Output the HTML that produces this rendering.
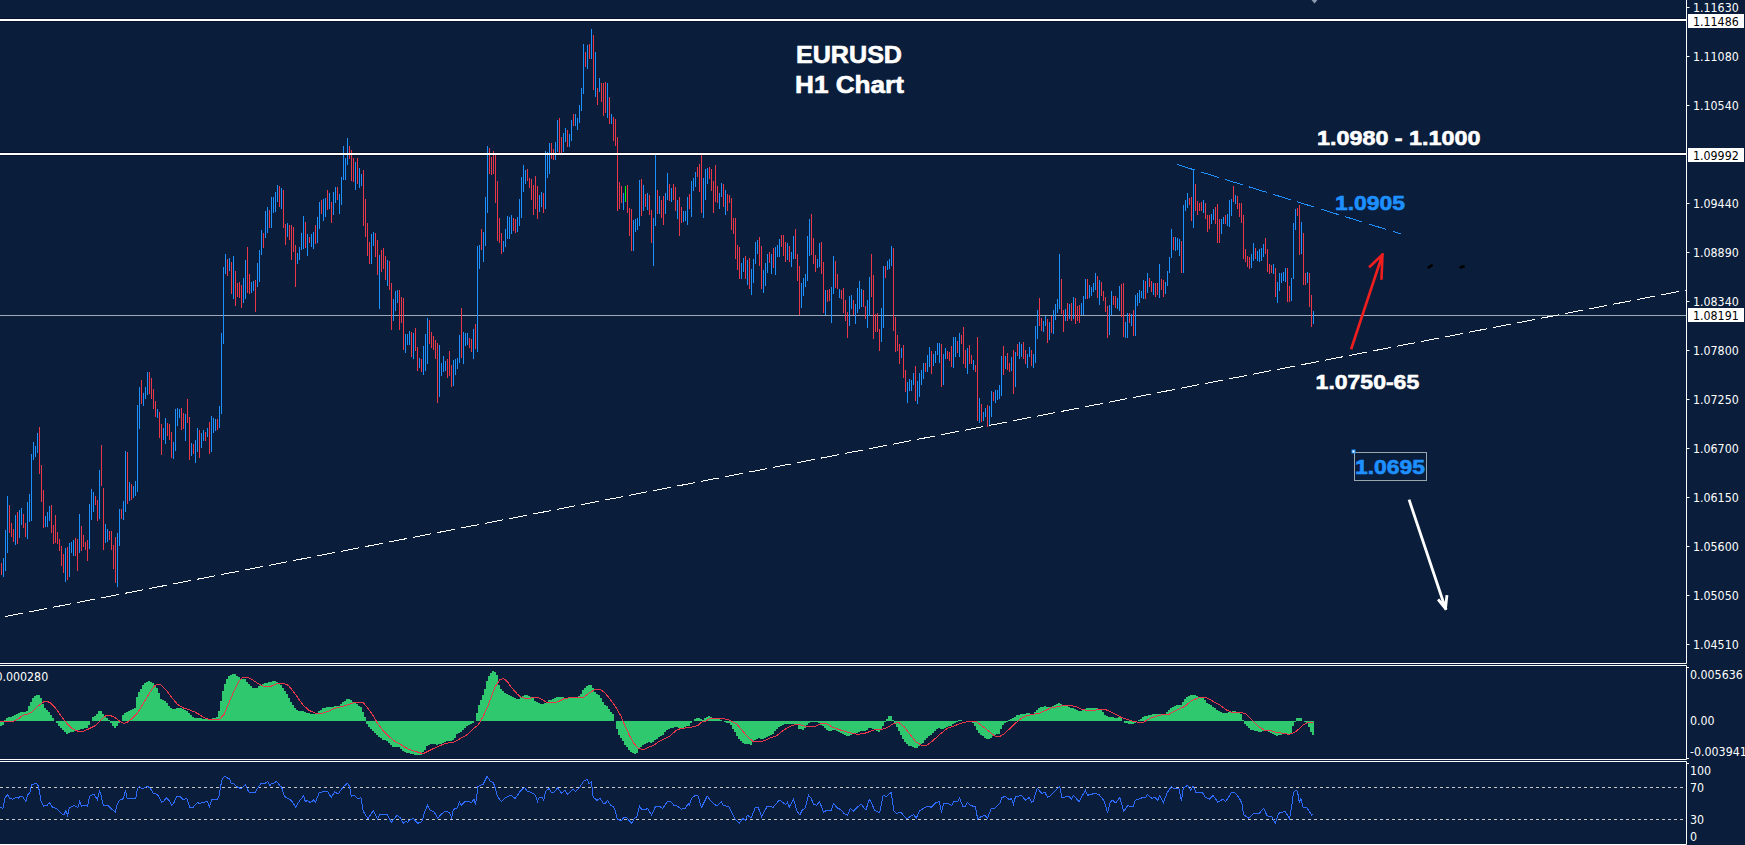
<!DOCTYPE html>
<html><head><meta charset="utf-8"><title>EURUSD H1 Chart</title>
<style>
html,body{margin:0;padding:0;background:#0a1e3b;overflow:hidden;width:1745px;height:845px}
svg{display:block}
.ax{font-family:"DejaVu Sans Condensed","DejaVu Sans","Liberation Sans",sans-serif;font-size:12.3px;fill:#fff}
.axb{fill:#000}
.big{font-family:"Liberation Sans",Arial,sans-serif;font-weight:bold;font-size:20.6px;fill:#fff;stroke:#fff;stroke-width:0.6px}
.bl{fill:#1e90ff;stroke:#1e90ff}
.ttl{font-size:24px}
</style></head><body>
<svg width="1745" height="845" viewBox="0 0 1745 845"><rect width="1745" height="845" fill="#0a1e3b"/><path d="M1686.5 0V663.5M1686.5 665.5V759.5M1686.5 761.5V844.5" stroke="#fff" stroke-width="1" fill="none"/><path d="M0 663.5H1686.5M0 665.5H1686.5M0 759.5H1686.5M0 761.5H1686.5M0 844.5H1686.5" stroke="#fff" stroke-width="1" fill="none"/><path d="M1687 667.5H1689M1687 758.5H1689M1687 763.5H1689" stroke="#fff" stroke-width="1"/><path d="M0 315.5H1686" stroke="#9caab6" stroke-width="1" fill="none"/><path d="M0 787.5H1686M0 819.5H1686" stroke="#c8c8c8" stroke-width="1" stroke-dasharray="3 3" fill="none"/><path d="M0 18.5H1686M0 21.5H1686M0 152.5H1686M0 155.5H1686" stroke="#020c22" stroke-width="1" opacity="0.7" fill="none"/><path d="M625.5 186V202" stroke="#00ff00" stroke-width="1" fill="none"/><path d="M3.5 558V577M5.5 530V571M7.5 496V553M15.5 515V545M19.5 510V538M21.5 508V525M27.5 502V539M29.5 494V522M31.5 454V521M33.5 442V460M35.5 446V457M37.5 433V453M45.5 516V527M47.5 512V527M49.5 506V521M65.5 548V582M69.5 543V577M71.5 542V553M73.5 540V556M79.5 514V553M89.5 504V549M91.5 489V520M93.5 492V512M99.5 470V519M105.5 524V543M107.5 529V542M117.5 533V587M119.5 509V546M123.5 501V520M125.5 451V512M129.5 482V501M133.5 486V498M135.5 481V496M137.5 405V492M139.5 387V429M143.5 393V406M145.5 387V399M147.5 372V395M157.5 409V418M163.5 428V440M165.5 418V444M173.5 442V459M175.5 409V451M177.5 408V426M179.5 409V418M185.5 414V441M191.5 443V456M195.5 440V463M197.5 428V452M201.5 433V448M203.5 430V441M207.5 428V437M211.5 416V452M213.5 418V433M215.5 419V431M219.5 406V428M221.5 333V414M223.5 267V344M225.5 254V274M229.5 258V271M233.5 256V299M243.5 278V303M245.5 260V299M251.5 282V293M253.5 281V291M257.5 263V287M259.5 250V282M261.5 230V255M265.5 211V238M267.5 207V233M271.5 197V228M273.5 197V213M275.5 192V212M277.5 185V202M281.5 188V209M287.5 223V237M297.5 253V264M299.5 247V260M301.5 233V250M303.5 216V249M307.5 234V256M311.5 234V247M313.5 232V249M317.5 217V243M319.5 202V229M323.5 199V221M325.5 198V217M329.5 193V209M333.5 192V215M335.5 187V203M339.5 194V214M341.5 177V205M343.5 146V180M345.5 158V180M347.5 138V165M355.5 162V190M359.5 168V188M361.5 174V186M371.5 234V264M373.5 232V246M379.5 255V309M387.5 260V286M393.5 299V321M395.5 291V311M397.5 290V303M405.5 334V353M407.5 334V345M409.5 331V345M413.5 333V359M419.5 358V368M423.5 346V375M425.5 334V371M427.5 318V364M439.5 345V397M441.5 363V376M443.5 356V372M445.5 361V371M453.5 360V386M455.5 359V375M457.5 358V369M459.5 335V363M463.5 332V364M465.5 333V346M467.5 333V345M473.5 329V359M477.5 246V352M479.5 245V269M483.5 232V262M485.5 197V246M487.5 146V213M503.5 241V252M505.5 229V247M507.5 216V239M509.5 217V239M511.5 215V234M517.5 217V232M519.5 199V226M521.5 177V218M523.5 165V192M525.5 170V184M539.5 195V212M541.5 192V207M545.5 151V209M547.5 152V178M549.5 143V174M555.5 142V160M557.5 120V152M563.5 133V152M565.5 128V142M569.5 134V147M571.5 120V141M575.5 114V126M577.5 118V130M579.5 105V123M581.5 88V111M583.5 44V94M587.5 45V69M591.5 29V59M595.5 52V97M599.5 78V92M607.5 83V118M611.5 114V124M623.5 193V210M633.5 220V251M635.5 219V232M637.5 218V230M639.5 180V226M643.5 185V211M647.5 193V210M653.5 218V266M655.5 155V226M659.5 196V214M665.5 193V214M667.5 173V200M671.5 188V202M677.5 200V219M683.5 211V222M685.5 211V221M687.5 197V225M691.5 181V217M693.5 178V191M695.5 172V187M703.5 178V218M705.5 169V200M707.5 168V184M719.5 193V209M721.5 183V197M725.5 190V215M741.5 263V279M743.5 258V272M747.5 260V285M751.5 269V295M753.5 259V283M755.5 242V264M757.5 240V254M763.5 270V293M765.5 263V286M767.5 254V273M771.5 254V274M775.5 247V275M777.5 245V257M779.5 239V257M787.5 243V260M791.5 252V267M793.5 236V259M801.5 283V308M803.5 278V296M805.5 274V287M807.5 236V281M809.5 219V256M817.5 259V268M819.5 243V267M825.5 290V315M831.5 287V323M833.5 256V294M839.5 289V298M849.5 296V326M851.5 295V309M855.5 304V324M857.5 288V313M859.5 281V309M861.5 289V307M867.5 300V328M869.5 277V316M881.5 308V342M883.5 266V328M887.5 261V270M889.5 259V269M891.5 246V266M901.5 348V358M907.5 382V403M909.5 379V391M911.5 380V391M913.5 373V385M917.5 381V404M919.5 373V397M921.5 370V385M923.5 363V379M927.5 355V372M929.5 347V367M933.5 354V366M935.5 351V363M937.5 343V355M939.5 343V363M943.5 354V385M945.5 348V359M953.5 337V368M955.5 337V357M959.5 333V357M967.5 348V374M973.5 360V370M979.5 398V423M983.5 412V421M985.5 408V417M989.5 406V426M991.5 391V417M995.5 390V403M997.5 390V400M999.5 385V399M1001.5 356V396M1005.5 356V369M1011.5 357V371M1015.5 352V387M1019.5 342V359M1021.5 344V357M1027.5 354V368M1029.5 347V357M1033.5 354V368M1035.5 326V363M1037.5 310V339M1043.5 321V332M1045.5 316V326M1049.5 322V340M1053.5 310V334M1055.5 304V320M1057.5 299V313M1059.5 254V309M1065.5 309V321M1069.5 304V319M1073.5 297V319M1081.5 303V315M1083.5 296V315M1085.5 279V299M1089.5 285V298M1091.5 287V296M1093.5 283V292M1095.5 273V290M1099.5 280V305M1109.5 305V335M1111.5 291V315M1117.5 298V309M1119.5 286V311M1125.5 322V338M1127.5 313V338M1131.5 314V326M1135.5 295V336M1137.5 293V306M1139.5 290V303M1141.5 291V298M1143.5 280V299M1153.5 283V295M1159.5 264V298M1165.5 282V294M1167.5 271V286M1169.5 257V273M1171.5 229V258M1175.5 237V251M1177.5 238V250M1179.5 239V256M1183.5 205V273M1185.5 200V211M1187.5 193V208M1193.5 170V228M1203.5 200V213M1211.5 214V224M1213.5 209V220M1221.5 219V234M1223.5 217V224M1227.5 214V226M1229.5 200V227M1231.5 199V216M1235.5 195V204M1251.5 254V268M1253.5 243V261M1257.5 251V261M1259.5 249V262M1261.5 248V261M1263.5 244V257M1273.5 264V274M1277.5 282V303M1279.5 273V291M1281.5 273V283M1283.5 272V281M1285.5 268V282M1291.5 278V301M1293.5 223V279M1295.5 209V230M1301.5 222V254M1307.5 272V283M1313.5 311V324M1147.5 273V293" stroke="#1e90ff" stroke-width="1" fill="none"/><path d="M1.5 563V575M9.5 505V533M11.5 523V537M13.5 529V542M17.5 512V544M23.5 514V528M25.5 523V537M39.5 427V474M41.5 465V502M43.5 490V528M51.5 505V533M53.5 525V544M55.5 515V543M57.5 532V544M59.5 539V551M61.5 546V566M63.5 554V573M67.5 547V580M75.5 538V556M77.5 539V571M81.5 526V551M83.5 535V547M85.5 542V550M87.5 540V561M95.5 496V505M97.5 500V521M101.5 445V486M103.5 488V550M109.5 531V540M111.5 531V550M113.5 545V569M115.5 537V583M121.5 509V519M127.5 452V504M131.5 484V500M141.5 380V404M149.5 372V394M151.5 378V399M153.5 389V409M155.5 401V417M159.5 412V438M161.5 424V455M167.5 423V436M169.5 424V440M171.5 432V458M181.5 408V430M183.5 413V429M187.5 399V423M189.5 417V460M193.5 444V454M199.5 430V458M205.5 432V441M209.5 422V454M217.5 419V430M227.5 259V276M231.5 262V294M235.5 271V306M237.5 283V297M239.5 282V298M241.5 285V308M247.5 247V293M249.5 274V294M255.5 280V312M263.5 233V248M269.5 210V228M279.5 186V207M283.5 190V228M285.5 224V245M289.5 225V240M291.5 225V260M293.5 227V252M295.5 245V287M305.5 222V248M309.5 237V243M315.5 225V244M321.5 200V214M327.5 190V210M331.5 202V223M337.5 187V200M349.5 146V159M351.5 150V181M353.5 158V182M357.5 158V184M363.5 170V226M365.5 199V237M367.5 223V256M369.5 242V264M375.5 233V257M377.5 240V275M381.5 250V272M383.5 248V269M385.5 256V280M389.5 261V290M391.5 283V330M399.5 290V330M401.5 297V323M403.5 298V350M411.5 332V357M415.5 328V351M417.5 347V371M421.5 359V372M429.5 320V344M431.5 332V348M433.5 336V350M435.5 340V359M437.5 343V403M447.5 359V378M449.5 351V376M451.5 365V387M461.5 308V358M469.5 338V348M471.5 339V352M475.5 324V349M481.5 229V250M489.5 148V174M491.5 157V175M493.5 151V174M495.5 155V203M497.5 181V241M499.5 218V243M501.5 233V254M513.5 218V231M515.5 219V233M527.5 169V181M529.5 178V188M531.5 179V200M533.5 185V215M535.5 176V209M537.5 186V219M543.5 193V213M551.5 143V159M553.5 149V160M559.5 118V153M561.5 137V153M567.5 130V147M573.5 114V126M585.5 52V67M589.5 44V59M593.5 35V90M597.5 88V105M601.5 83V102M603.5 83V116M605.5 82V113M609.5 97V124M613.5 117V141M615.5 119V146M617.5 137V211M619.5 182V209M621.5 186V203M627.5 185V213M629.5 208V236M631.5 209V251M641.5 179V216M645.5 194V207M649.5 195V215M651.5 210V243M657.5 190V214M661.5 200V218M663.5 196V225M669.5 184V201M673.5 184V200M675.5 187V211M679.5 197V236M681.5 207V223M689.5 194V209M697.5 167V177M699.5 164V192M701.5 155V213M709.5 167V179M711.5 169V191M713.5 181V213M715.5 165V202M717.5 186V203M723.5 184V207M727.5 194V211M729.5 195V203M731.5 198V230M733.5 218V234M735.5 218V259M737.5 245V270M739.5 247V279M745.5 256V279M749.5 258V289M759.5 237V266M761.5 246V289M769.5 252V263M773.5 248V268M781.5 235V247M783.5 235V256M785.5 242V262M789.5 246V262M795.5 229V259M797.5 254V281M799.5 266V315M811.5 214V255M813.5 238V264M815.5 255V272M821.5 242V274M823.5 262V313M827.5 290V302M829.5 289V301M835.5 261V288M837.5 274V289M841.5 290V299M843.5 288V313M845.5 300V321M847.5 312V338M853.5 300V315M863.5 290V307M865.5 306V319M871.5 254V297M873.5 275V339M875.5 314V332M877.5 313V332M879.5 329V351M885.5 266V278M893.5 248V331M895.5 317V352M897.5 335V351M899.5 344V364M903.5 345V378M905.5 370V392M915.5 366V401M925.5 363V372M931.5 351V374M941.5 344V387M947.5 351V359M949.5 352V361M951.5 346V367M957.5 341V353M961.5 335V344M963.5 327V364M965.5 350V368M969.5 345V364M971.5 355V364M975.5 365V372M977.5 337V421M981.5 404V422M987.5 405V427M993.5 392V401M1003.5 346V375M1007.5 353V370M1009.5 363V372M1013.5 350V394M1017.5 344V356M1023.5 342V359M1025.5 350V364M1031.5 350V366M1039.5 298V326M1041.5 318V331M1047.5 319V343M1051.5 316V333M1061.5 279V314M1063.5 310V332M1067.5 303V321M1071.5 303V321M1075.5 298V324M1077.5 306V321M1079.5 305V323M1087.5 279V299M1097.5 276V298M1101.5 282V296M1103.5 291V301M1105.5 297V312M1107.5 306V338M1113.5 296V305M1115.5 296V308M1121.5 284V317M1123.5 283V337M1129.5 313V323M1133.5 310V336M1145.5 281V299M1149.5 278V287M1151.5 281V292M1155.5 283V297M1157.5 283V295M1161.5 279V290M1163.5 280V297M1173.5 237V250M1181.5 241V273M1189.5 198V205M1191.5 197V221M1195.5 184V211M1197.5 201V215M1199.5 203V211M1201.5 202V211M1205.5 203V219M1207.5 215V232M1209.5 215V229M1215.5 207V224M1217.5 204V243M1219.5 219V243M1225.5 215V224M1233.5 186V202M1237.5 196V209M1239.5 203V217M1241.5 203V223M1243.5 215V259M1245.5 249V262M1247.5 256V267M1249.5 257V269M1255.5 248V259M1265.5 238V254M1267.5 249V272M1269.5 264V274M1271.5 265V273M1275.5 268V297M1287.5 268V302M1289.5 286V302M1297.5 208V216M1299.5 205V255M1303.5 233V285M1305.5 273V285M1309.5 273V307M1311.5 295V327" stroke="#e8384a" stroke-width="1" fill="none"/><path d="M0 20H1686M0 154H1686" stroke="#fff" stroke-width="2" fill="none"/><path d="M0 721H0V726H2H2V725H4H4V720H6H6V718H8H8V717H10H10V717H12H12V716H14H14V715H16H16V714H18H18V713H20H20V712H22H22V712H24H24V712H26H26V711H28H28V706H30H30V702H32H32V698H34H34V696H36H36V695H38H38V695H40H40V698H42H42V704H44H44V708H46H46V710H48H48V712H50H50V715H52H52V718H54H54V721H56H56V723H58H58V726H60H60V728H62H62V730H64H64V732H66H66V734H68H68V733H70H70V732H72H72V732H74H74V731H76H76V730H78H78V730H80H80V729H82H82V729H84H84V728H86H86V728H88H88V725H90H90V721H92H92V717H94H94V716H96H96V714H98H98V711H100H100V711H102H102V714H104H104V717H106H106V718H108H108V720H110H110V723H112H112V726H114H114V728H116H116V726H118H118V723H120H120V721H122H122V715H124H124V713H126H126V712H128H128V711H130H130V710H132H132V709H134H134V708H136H136V697H138H138V692H140H140V689H142H142V685H144H144V683H146H146V682H148H148V681H150H150V682H152H152V683H154H154V686H156H156V688H158H158V693H160H160V699H162H162V700H164H164V701H166H166V703H168H168V706H170H170V708H172H172V709H174H174V709H176H176V708H178H178V708H180H180V708H182H182V709H184H184V710H186H186V711H188H188V713H190H190V715H192H192V717H194H194V718H196H196V718H198H198V718H200H200V718H202H202V719H204H204V719H206H206V719H208H208V719H210H210V719H212H212V718H214H214V718H216H216V717H218H218V711H220H220V701H222H222V691H224H224V684H226H226V679H228H228V676H230H230V675H232H232V674H234H234V674H236H236V676H238H238V677H240H240V679H242H242V679H244H244V679H246H246V682H248H248V684H250H250V686H252H252V688H254H254V688H256H256V688H258H258V686H260H260V685H262H262V684H264H264V683H266H266V683H268H268V682H270H270V682H272H272V681H274H274V681H276H276V682H278H278V683H280H280V685H282H282V688H284H284V691H286H286V694H288H288V698H290H290V702H292H292V705H294H294V708H296H296V710H298H298V711H300H300V711H302H302V711H304H304V712H306H306V713H308H308V713H310H310V714H312H312V714H314H314V714H316H316V713H318H318V711H320H320V710H322H322V708H324H324V708H326H326V707H328H328V707H330H330V707H332H332V707H334H334V706H336H336V706H338H338V706H340H340V704H342H342V702H344H344V701H346H346V699H348H348V699H350H350V700H352H352V702H354H354V703H356H356V704H358H358V706H360H360V707H362H362V712H364H364V717H366H366V724H368H368V727H370H370V729H372H372V731H374H374V733H376H376V735H378H378V737H380H380V738H382H382V740H384H384V740H386H386V741H388H388V743H390H390V745H392H392V747H394H394V747H396H396V747H398H398V747H400H400V749H402H402V751H404H404V752H406H406V753H408H408V753H410H410V754H412H412V754H414H414V755H416H416V755H418H418V755H420H420V755H422H422V752H424H424V750H426H426V746H428H428V745H430H430V744H432H432V744H434H434V744H436H436V745H438H438V744H440H440V744H442H442V743H444H444V742H446H446V741H448H448V741H450H450V741H452H452V740H454H454V738H456H456V734H458H458V733H460H460V732H462H462V730H464H464V728H466H466V726H468H468V725H470H470V724H472H472V723H474H474V721H476H476V713H478H478V705H480H480V700H482H482V695H484H484V689H486H486V681H488H488V676H490H490V673H492H492V671H494H494V672H496H496V675H498H498V685H500H500V689H502H502V691H504H504V693H506H506V694H508H508V695H510H510V696H512H512V697H514H514V698H516H516V699H518H518V699H520H520V697H522H522V696H524H524V695H526H526V695H528H528V696H530H530V697H532H532V698H534H534V701H536H536V702H538H538V703H540H540V704H542H542V704H544H544V703H546H546V702H548H548V700H550H550V700H552H552V699H554H554V698H556H556V697H558H558V697H560H560V697H562H562V697H564H564V698H566H566V698H568H568V698H570H570V698H572H572V698H574H574V697H576H576V697H578H578V696H580H580V694H582H582V690H584H584V688H586H586V686H588H588V685H590H590V685H592H592V688H594H594V692H596H596V694H598H598V695H600H600V698H602H602V702H604H604V705H606H606V706H608H608V709H610H610V712H612H612V714H614H614V721H616H616V729H618H618V735H620H620V738H622H622V741H624H624V745H626H626V747H628H628V750H630H630V752H632H632V753H634H634V754H636H636V753H638H638V749H640H640V747H642H642V745H644H644V744H646H646V743H648H648V742H650H650V743H652H652V742H654H654V740H656H656V739H658H658V737H660H660V736H662H662V735H664H664V732H666H666V730H668H668V729H670H670V728H672H672V728H674H674V727H676H676V727H678H678V728H680H680V728H682H682V728H684H684V727H686H686V726H688H688V726H690H690V723H692H692V721H694H694V719H696H696V718H698H698V718H700H700V719H702H702V720H704H704V718H706H706V717H708H708V716H710H710V717H712H712V718H714H714V719H716H716V719H718H718V719H720H720V720H722H722V721H724H724V722H726H726V723H728H728V723H730H730V725H732H732V729H734H734V732H736H736V736H738H738V739H740H740V741H742H742V743H744H744V744H746H746V744H748H748V744H750H750V745H752H752V742H754H754V740H756H756V739H758H758V738H760H760V739H762H762V739H764H764V738H766H766V737H768H768V736H770H770V735H772H772V734H774H774V731H776H776V729H778H778V727H780H780V726H782H782V725H784H784V724H786H786V724H788H788V724H790H790V724H792H792V724H794H794V724H796H796V725H798H798V729H800H800V729H802H802V730H804H804V728H806H806V725H808H808V723H810H810V722H812H812V722H814H814V722H816H816V722H818H818V723H820H820V725H822H822V726H824H824V728H826H826V730H828H828V731H830H830V731H832H832V730H834H834V730H836H836V731H838H838V732H840H840V733H842H842V734H844H844V735H846H846V736H848H848V736H850H850V735H852H852V734H854H854V734H856H856V733H858H858V732H860H860V731H862H862V731H864H864V731H866H866V730H868H868V728H870H870V728H872H872V729H874H874V730H876H876V731H878H878V732H880H880V730H882H882V726H884H884V722H886H886V719H888H888V716H890H890V716H892H892V720H894H894V723H896H896V727H898H898V731H900H900V735H902H902V739H904H904V742H906H906V744H908H908V746H910H910V746H912H912V747H914H914V748H916H916V748H918H918V746H920H920V744H922H922V743H924H924V740H926H926V738H928H928V736H930H930V735H932H932V733H934H934V731H936H936V729H938H938V728H940H940V729H942H942V729H944H944V728H946H946V727H948H948V726H950H950V726H952H952V724H954H954V723H956H956V722H958H958V720H960H960V720H962H962V721H964H964V721H966H966V722H968H968V722H970H970V722H972H972V723H974H974V726H976H976V730H978H978V733H980H980V735H982H982V736H984H984V738H986H986V739H988H988V739H990H990V738H992H992V736H994H994V735H996H996V734H998H998V734H1000H1000V729H1002H1002V725H1004H1004V723H1006H1006V722H1008H1008V720H1010H1010V719H1012H1012V718H1014H1014V717H1016H1016V715H1018H1018V715H1020H1020V714H1022H1022V714H1024H1024V714H1026H1026V713H1028H1028V713H1030H1030V714H1032H1032V714H1034H1034V712H1036H1036V710H1038H1038V708H1040H1040V707H1042H1042V707H1044H1044V706H1046H1046V707H1048H1048V707H1050H1050V707H1052H1052V706H1054H1054V705H1056H1056V704H1058H1058V703H1060H1060V704H1062H1062V705H1064H1064V705H1066H1066V706H1068H1068V707H1070H1070V708H1072H1072V708H1074H1074V709H1076H1076V710H1078H1078V711H1080H1080V711H1082H1082V710H1084H1084V709H1086H1086V708H1088H1088V708H1090H1090V708H1092H1092V708H1094H1094V708H1096H1096V708H1098H1098V709H1100H1100V710H1102H1102V712H1104H1104V715H1106H1106V716H1108H1108V717H1110H1110V717H1112H1112V717H1114H1114V718H1116H1116V718H1118H1118V717H1120H1120V718H1122H1122V721H1124H1124V723H1126H1126V723H1128H1128V724H1130H1130V724H1132H1132V724H1134H1134V723H1136H1136V721H1138H1138V720H1140H1140V719H1142H1142V717H1144H1144V716H1146H1146V716H1148H1148V715H1150H1150V715H1152H1152V714H1154H1154V714H1156H1156V714H1158H1158V714H1160H1160V714H1162H1162V714H1164H1164V714H1166H1166V712H1168H1168V710H1170H1170V708H1172H1172V707H1174H1174V706H1176H1176V705H1178H1178V705H1180H1180V705H1182H1182V702H1184H1184V699H1186H1186V697H1188H1188V696H1190H1190V695H1192H1192V695H1194H1194V695H1196H1196V696H1198H1198V697H1200H1200V697H1202H1202V698H1204H1204V700H1206H1206V703H1208H1208V704H1210H1210V705H1212H1212V707H1214H1214V708H1216H1216V710H1218H1218V711H1220H1220V712H1222H1222V713H1224H1224V713H1226H1226V713H1228H1228V712H1230H1230V712H1232H1232V711H1234H1234V711H1236H1236V712H1238H1238V712H1240H1240V714H1242H1242V720H1244H1244V724H1246H1246V726H1248H1248V728H1250H1250V730H1252H1252V730H1254H1254V731H1256H1256V731H1258H1258V732H1260H1260V732H1262H1262V731H1264H1264V731H1266H1266V731H1268H1268V732H1270H1270V733H1272H1272V734H1274H1274V735H1276H1276V736H1278H1278V735H1280H1280V735H1282H1282V734H1284H1284V734H1286H1286V734H1288H1288V734H1290H1290V733H1292H1292V726H1294H1294V722H1296H1296V718H1298H1298V718H1300H1300V718H1302H1302V721H1304H1304V722H1306H1306V723H1308H1308V727H1310H1310V732H1312H1312V735H1314V721Z" fill="#30c86e"/><polyline points="0,721.4 13.8,721.2 18.3,718.9 22.9,715.2 27.5,714.3 32.1,712 37.8,706.3 43.6,701.9 47,701.4 50.4,702.8 55,707.4 60.7,715.4 66.5,722.9 72.2,728.6 77.9,731.2 83.7,731.2 89.4,728.6 95.1,725.7 100.9,720 105.4,716 110,715.4 114.6,717.2 119.2,720.9 123.8,723.5 127.2,722.3 131.8,718.9 137.5,713.1 143.3,703.4 149,693.7 154.7,685.4 158.2,684.3 160.5,684.7 166.2,690.2 171.9,697.7 177.7,704.5 183.4,708 189.1,709.7 194.8,712 200,714.9 204.6,718 209.2,719.4 219.5,719.4 224.1,714.3 228.7,703.4 234.4,690.2 239,681 242.4,677.4 248.1,677.4 252.7,679.9 257.3,683.1 263,686.2 271.1,686.2 276.8,683.6 283.7,683.3 288.3,685.4 292.8,690.8 298.6,698.8 303.2,705.1 308.9,710.3 315.8,713.4 322.6,713.1 328.4,711.4 334.1,708.6 341,706.8 346.7,705.1 351.3,703.4 355.9,702.2 362.7,702.2 367.3,707.4 374.2,717.2 377.6,723.5 383.4,730.9 389.1,736.6 394.8,741.2 400,744.1 404.6,747 409.2,749.6 416,751.5 422.9,753.8 429.8,750.4 436.7,747 443.6,744.1 450.4,742.4 453.9,742 460.7,738.4 467.6,734.3 473.4,728.6 477.9,725.2 482.5,717.7 487.1,708 491.7,695.9 495.1,686.8 499.7,679.9 503.7,678.5 507.7,682.2 512.3,688.5 516.9,693.7 521.5,697.7 527.2,698.5 533,697.7 538.7,697.7 546.7,702.2 557,702.2 563.9,698.8 570.8,697.4 583.4,697.4 589.1,693.1 594.8,689.6 600,689.3 604.6,692.5 610.3,699.4 616,707.4 620.6,715.4 625.2,726.3 629.8,736.1 634.4,744.1 639,748.7 643.6,749.6 648.1,747.5 653.9,745.2 658.5,741.8 664.2,738.9 669.9,736.1 675.6,730.9 680.2,728.6 687.1,727.8 694,726.7 698.6,725.2 700.9,722.3 705.4,721.2 710,718.6 715.8,718.3 723.8,718.6 729.5,720.2 736.4,723.5 742.1,730.3 747.9,737.2 753.6,741.8 759.3,741.8 765,740.6 770.8,737.8 776.5,735.8 783.4,730.3 789.1,726.9 794.8,724.6 800,724.4 805.7,726.9 814.9,726.7 820.6,723.5 826.4,723.7 833.2,727.5 841.3,730.3 849.3,732.6 857.3,734.3 864.2,733.5 869.9,731.5 875.6,729.4 881.4,729.4 887.1,727.8 892.8,724 898.6,722.3 904.3,726.9 910,734.3 915.8,741.8 921.5,745.2 927.2,745 933,740.6 939.8,734.3 947.9,728 954.7,725.7 960.5,723.5 967.3,721.7 976.5,721.7 983.4,726.9 989.1,731.5 994.8,736.1 1000,736.3 1003.4,734.3 1009.2,729.2 1014.9,723.5 1020.6,718.9 1027.5,715.4 1034.4,714.1 1040.1,712.9 1045.8,710.3 1051.6,707.6 1057.3,706.8 1064.2,705.3 1069.9,705.3 1075.6,706.5 1081.4,709.1 1087.1,710.5 1092.8,710.6 1098.6,709.5 1104.3,709.1 1110,711.4 1115.8,714.5 1121.5,717.5 1127.2,719.4 1133,721.2 1138.7,722.3 1143.3,722.3 1149,718.9 1154.7,716.6 1161.6,714.9 1168.5,714.5 1175.4,710.8 1180,708.6 1184.6,706.5 1191.5,700.8 1198.3,697.7 1206.4,697.7 1213.2,701.4 1220.1,705.1 1225.8,709.7 1231.6,712.2 1240.7,712.2 1246.5,714.3 1253.4,721.2 1259.1,726.9 1264.8,730.3 1271.7,730.9 1277.4,732.6 1283.2,733.2 1288.9,734.3 1294.6,732.6 1299.2,728.6 1302.6,725.2 1307.2,722.9 1313,722.3" fill="none" stroke="#e8384a" stroke-width="1" shape-rendering="crispEdges"/><polyline points="0,807.3 2.9,808.4 5.2,797.5 7.4,794.7 9.7,798.1 12.6,799.2 16,797.3 18.3,798.1 20.6,796.2 22.9,797 25.8,801.5 27.5,795.2 29.8,792.9 31.5,784.9 33.2,784.3 36.7,783.2 38.4,786.1 41.3,802.1 43.6,806.1 47,805.6 49.3,802.7 52.7,807.3 56.2,808.4 59.6,811.3 61.9,814.1 64.2,814.1 65.9,810.7 67.6,815.3 69.3,807.8 73.4,805.6 75.6,806.1 77.9,807.8 79.7,801.5 81.4,806.1 84.8,805.3 87.7,806.1 89.4,796.4 94,794.1 97.4,799.8 99.5,791.2 100.9,794.7 103.2,805 107.7,805.3 112.3,809.6 115.2,812.4 116.9,805 119.2,800.4 123.2,798.7 125.5,790.1 127.2,798.7 130.7,798.9 133,798.4 135.8,798.4 137.5,788.4 139.3,786.6 142.1,788.6 145,787.8 147.3,786.3 150.1,787.8 153,792.9 157.6,794.7 161.6,802.1 163.9,801.5 166.2,797.5 169.1,800.4 171.9,805.3 174.2,802.1 176.5,796.4 179.9,796.4 183.4,799.8 186.8,798.4 189.7,807.3 193.1,807.3 197.1,802.7 200,803.3 205.7,801.9 207.4,801.2 209.4,806.5 212,799.6 217.2,799.2 218.9,796.4 220.6,786.1 222.3,779.2 224.6,776.3 227.5,778 229.8,779 231.2,783.2 233.2,783.2 236.7,786.6 241.3,788.9 245.3,784.7 248.7,792 255,792.4 260.7,783.8 265.3,783.2 267.6,781.5 269.9,785.5 271.6,783.2 273.9,783.2 276.2,781.3 278.5,783.8 280.2,786.1 281.6,787 283.7,794.7 285.4,797 289.4,799.2 292.3,801.5 295.7,807.3 299.1,801.5 303.7,795.5 305.4,801.9 307.2,800.4 310,802.3 311.7,801.9 313.5,799.6 315.2,802.7 319.2,792.9 323.2,791.6 327.8,792 331.2,797.5 334.7,791.6 338.1,794.1 343.3,786.6 347.3,783.5 349.6,786.1 351.3,796.2 354.7,795.5 357.6,798.4 361,797.8 363.3,811.3 367.9,818.7 373.1,810.7 377.6,818.7 379.9,814.5 383.4,814.5 387.4,814.7 391.4,822.2 397.1,815.3 400,817.6 403.4,823.3 405.7,821.6 408,822.2 409.2,820.2 413.2,818.4 417.8,823.3 421.8,821.6 424.6,812.4 427.5,805.3 429.8,809.9 434.4,812.4 437.8,818.2 441.3,814.1 445.3,811.3 449.3,812.4 451.6,817.6 453.3,809.6 457.3,807.8 459.4,801.5 461.3,805.3 464.8,801.5 468.8,801.5 471.6,802.7 473.9,799.2 475.6,804.6 477.9,786.6 480.2,785.5 483.1,784.3 487.1,776.3 490.5,781.5 493.4,782.6 495.1,787.8 497.4,796.4 501.4,801.5 505.4,797.8 510.6,795.2 515.2,798.4 520.3,791.2 524.4,787.4 527.2,791.2 531.8,792.7 535.2,795 537.5,801.5 539.3,797.5 542.1,797.5 543.8,800.4 545.6,791.2 549,788.6 551.3,792.4 554.2,792 557.6,787.8 561.6,793.2 565,790.1 567.3,794.3 573.1,789.3 575.4,791.6 579.9,787 583.4,781.5 587.4,779.4 589.1,783.8 591.4,781.5 593.1,797 597.1,800.4 600,798.1 603.4,803.3 605.7,803 607.4,800.4 610.9,805.6 613.2,806.5 615.5,811.3 617.2,819.1 621.2,820.7 624.1,817.2 626.9,817.9 631.5,823.3 634.4,818.2 636.7,817.6 639.5,806.1 641.3,809 645.3,809.6 647.6,808.4 651.6,815.3 655.6,806.1 659,806.1 662.5,808.4 667.6,801.5 671.1,802.1 673.9,805.3 676.8,805.6 681.4,809.2 685.4,808.1 688.3,803.3 689.4,805 691.7,798.1 695.7,795.2 698,795.8 701.4,807.6 707.2,796.2 711.2,801.5 716.9,806.1 721.5,801.5 723.2,805.6 728.9,806.5 734.7,818.4 739.3,823.3 742.7,818.4 745.6,820.5 747.3,815.3 751.3,817.6 755.3,807.3 758.2,807.3 761.6,816.4 767.3,806.1 773.1,807.3 779.4,800.1 785.7,804.4 787.4,802.3 789.1,807.3 793.5,799.2 797.1,811.3 800,815 801.7,810.7 805.2,807.8 808.6,795.2 810.9,798.1 813.8,804.4 816.6,805.3 819.5,801.5 823.5,812.2 826.4,810.4 831.5,810.1 833.5,803.3 837.2,807.8 840.7,809.6 843.6,813 847.6,815.3 850.4,808.4 853.3,811.3 858.5,806.1 861.3,804.4 865.9,810.1 869.3,799.2 872.2,804.4 874.5,810.1 879.7,813 883.1,795.2 886.5,796.4 891.1,792.4 894,811.3 896.3,813.3 900.9,812.4 906.6,818.7 913.5,814.5 916.3,817.9 919.8,810.7 923.8,808.1 928.4,806.1 931.2,807.3 935.8,802.7 939.3,801.5 941.5,812.4 943.8,803.3 947.9,803.3 951.9,805.3 954.2,801 957.6,801.5 959.5,797.8 962.8,806.1 965,806.9 967.3,802.3 970.8,805.6 975.4,806.7 977.7,819.3 980.5,817 985.1,815.3 987.4,818.4 991.4,808.4 994.8,808.4 1000,803.3 1001.7,797.8 1005.2,796.2 1009.2,799.8 1011.5,798.4 1013.5,804.4 1015.5,796.6 1018.3,796.4 1021.2,795.2 1025.8,800.4 1029.2,797.3 1031.5,802.3 1033.2,801.5 1037.2,788.1 1041.8,793.5 1044.7,792 1047.6,797.3 1051,795.2 1059.6,786.3 1061.9,797.5 1065.3,797 1068.8,796.2 1071.6,799.2 1073.4,795.5 1079.1,801.5 1085.4,790.4 1087.7,795.2 1091.7,794.3 1095.1,793.2 1099.1,794.7 1103.7,800.4 1105.4,805 1107.5,813.3 1110,802.7 1112.3,800.1 1115.8,803 1119.8,797.5 1123.8,811.3 1127.8,805.3 1130.1,806.9 1133.5,806.1 1135.2,800.4 1138.7,799.2 1142.7,797.5 1145.6,797.3 1147.3,794.7 1151.9,798.4 1155.3,797.5 1157.6,800.4 1159.9,795.5 1163.3,802.7 1167.3,792.4 1171.3,786.6 1174.2,788.6 1178.8,788.1 1181.4,800.7 1183.4,787.8 1187.4,785.5 1190.8,790.1 1193.1,786.3 1196,792.4 1198.3,792.9 1202.3,792.4 1205.2,797 1209.2,799.2 1213.2,795.5 1217.8,802.3 1223,799.2 1225.8,801.5 1231.6,792.4 1235.6,793.2 1239.6,798.7 1241.9,803.3 1243.6,814.7 1248.8,818.2 1253.4,813.3 1259.1,813.3 1263.7,808.4 1267.1,815.9 1271.7,816.4 1275.1,823.3 1278.6,813.3 1282,812.2 1285.4,811.5 1289.5,819.1 1291.7,806.1 1293.5,792.4 1295.8,790.4 1297.5,791.2 1299.2,802.1 1300.9,798.7 1303.2,807.8 1306.6,807.3 1311.8,815.3 1313,814.1" fill="none" stroke="#2d6bff" stroke-width="1" shape-rendering="crispEdges"/><line x1="5" y1="616.6" x2="1686" y2="290.1" stroke="#fff" stroke-width="1" stroke-dasharray="18.2 6.246" shape-rendering="crispEdges"/><line x1="1177" y1="164.5" x2="1401" y2="234" stroke="#1e90ff" stroke-width="1" stroke-dasharray="18.5 6.6" shape-rendering="crispEdges"/><path d="M1351.5 348L1381 259M1382.5 254.5L1370 266.5M1382.5 254.5L1381.5 278.5" stroke="#f01e1e" stroke-width="2.6" fill="none" stroke-linecap="square"/><path d="M1409.5 501L1445.5 608.5M1445.5 608.5L1439 600.5M1445.5 608.5L1446.8 596.5" stroke="#fff" stroke-width="2.8" fill="none" stroke-linecap="square"/><rect x="1354.5" y="452.5" width="72" height="28" fill="none" stroke="#9aa6ae" stroke-width="1"/><rect x="1352" y="450" width="3" height="3" fill="#fff" stroke="#1e90ff" stroke-width="1"/><path d="M1427.8 268L1432.6 264.8M1459.6 267.8L1464.6 266" stroke="#000" stroke-width="2.6"/><path d="M1311.5 0H1317.5L1314.5 3.5Z" fill="#8c9bb0"/><text x="796" y="63" class="big ttl" textLength="106" lengthAdjust="spacingAndGlyphs">EURUSD</text><text x="795" y="93" class="big ttl" textLength="109" lengthAdjust="spacingAndGlyphs">H1 Chart</text><text x="1317" y="145" class="big" textLength="163.5" lengthAdjust="spacingAndGlyphs">1.0980 - 1.1000</text><text x="1335" y="210" class="big bl" textLength="70" lengthAdjust="spacingAndGlyphs">1.0905</text><text x="1315.6" y="389" class="big" textLength="103.6" lengthAdjust="spacingAndGlyphs">1.0750-65</text><text x="1355" y="474" class="big bl" textLength="70" lengthAdjust="spacingAndGlyphs">1.0695</text><line x1="1687" y1="7.5" x2="1689.5" y2="7.5" stroke="#fff" stroke-width="1"/><text x="1693" y="11.8" class="ax">1.11630</text><line x1="1687" y1="56.5" x2="1689.5" y2="56.5" stroke="#fff" stroke-width="1"/><text x="1693" y="60.8" class="ax">1.11080</text><line x1="1687" y1="105.5" x2="1689.5" y2="105.5" stroke="#fff" stroke-width="1"/><text x="1693" y="109.8" class="ax">1.10540</text><line x1="1687" y1="203.5" x2="1689.5" y2="203.5" stroke="#fff" stroke-width="1"/><text x="1693" y="207.8" class="ax">1.09440</text><line x1="1687" y1="252.5" x2="1689.5" y2="252.5" stroke="#fff" stroke-width="1"/><text x="1693" y="256.8" class="ax">1.08890</text><line x1="1687" y1="301.5" x2="1689.5" y2="301.5" stroke="#fff" stroke-width="1"/><text x="1693" y="305.8" class="ax">1.08340</text><line x1="1687" y1="350.5" x2="1689.5" y2="350.5" stroke="#fff" stroke-width="1"/><text x="1693" y="354.8" class="ax">1.07800</text><line x1="1687" y1="399.5" x2="1689.5" y2="399.5" stroke="#fff" stroke-width="1"/><text x="1693" y="403.8" class="ax">1.07250</text><line x1="1687" y1="448.5" x2="1689.5" y2="448.5" stroke="#fff" stroke-width="1"/><text x="1693" y="452.8" class="ax">1.06700</text><line x1="1687" y1="497.5" x2="1689.5" y2="497.5" stroke="#fff" stroke-width="1"/><text x="1693" y="501.8" class="ax">1.06150</text><line x1="1687" y1="546.5" x2="1689.5" y2="546.5" stroke="#fff" stroke-width="1"/><text x="1693" y="550.8" class="ax">1.05600</text><line x1="1687" y1="595.5" x2="1689.5" y2="595.5" stroke="#fff" stroke-width="1"/><text x="1693" y="599.8" class="ax">1.05050</text><line x1="1687" y1="644.5" x2="1689.5" y2="644.5" stroke="#fff" stroke-width="1"/><text x="1693" y="648.8" class="ax">1.04510</text><rect x="1688" y="14" width="56" height="14" fill="#fff"/><text x="1693" y="26.2" class="ax axb">1.11486</text><rect x="1688" y="148" width="56" height="14" fill="#fff"/><text x="1693" y="160.2" class="ax axb">1.09992</text><rect x="1688" y="308" width="56" height="14" fill="#fff"/><text x="1693" y="320.2" class="ax axb">1.08191</text><text x="1690" y="679.3" class="ax">0.005636</text><text x="1690" y="725.3" class="ax">0.00</text><text x="1690" y="755.8" class="ax">-0.003941</text><text x="1690" y="775.3" class="ax">100</text><text x="1690" y="791.8" class="ax">70</text><text x="1690" y="823.8" class="ax">30</text><text x="1690" y="840.8" class="ax">0</text><text x="-4.6" y="680.8" class="ax">0.000280</text></svg>
</body></html>
